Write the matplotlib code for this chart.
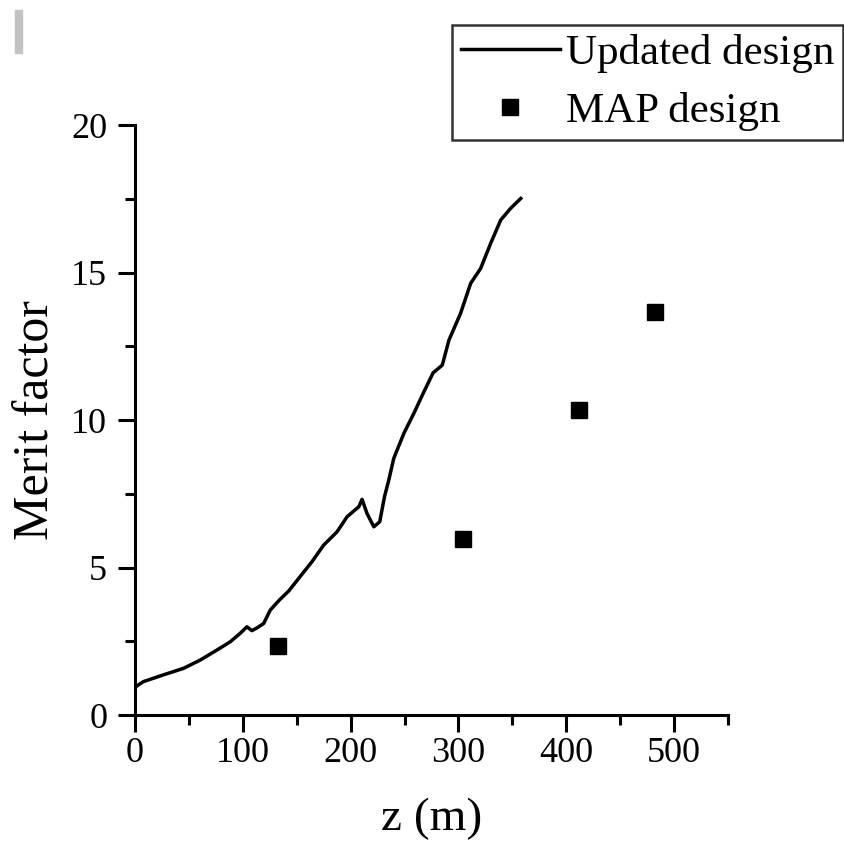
import matplotlib
matplotlib.use("Agg")
import matplotlib.pyplot as plt
from matplotlib.patches import Rectangle
from matplotlib.ticker import MultipleLocator

# Updated design curve
z_line = [0, 1.5, 7.7, 26.3, 44.9, 60.4, 75.9, 88.3, 97.6, 103.8, 108.4, 113, 119.3,
          125.5, 134, 142.5, 151.8, 164.2, 175, 187.4, 196.7, 207.6, 210.6, 215.2,
          221.5, 227, 231.4, 235.4, 240, 249.4, 258.7, 268, 276.5, 285, 291.2, 302,
          311.3, 320.6, 329.9, 339.2, 348.5, 357.8]
m_line = [0.92, 0.98, 1.13, 1.36, 1.58, 1.86, 2.2, 2.48, 2.77, 2.99, 2.86, 2.95, 3.1,
          3.56, 3.9, 4.2, 4.63, 5.2, 5.76, 6.21, 6.72, 7.06, 7.31, 6.83,
          6.38, 6.55, 7.4, 7.97, 8.7, 9.55, 10.23, 10.96, 11.6, 11.86, 12.71, 13.62,
          14.63, 15.14, 15.99, 16.78, 17.18, 17.51]

# MAP design points
z_map = [132.9, 304.5, 411.4, 482.0]
m_map = [2.35, 5.97, 10.35, 13.65]

x_ticks = [0, 100, 200, 300, 400, 500]
y_ticks = [0, 5, 10, 15, 20]

plt.rcParams['font.family'] = ['Liberation Serif', 'DejaVu Serif']

fig = plt.figure(figsize=(8.45, 8.55), dpi=100)
ax = fig.add_axes([135/845, 1-715/855, (728-135)/845, (715-125)/855])

ln, = ax.plot(z_line, m_line, color='black', lw=2.5, label='Updated design')
pts, = ax.plot(z_map, m_map, 's', color='black', markersize=12, label='MAP design')

ax.set_xlim(0, 550)
ax.set_ylim(0, 20)
ax.set_xticks(x_ticks)
ax.set_yticks(y_ticks)
ax.xaxis.set_minor_locator(MultipleLocator(50))
ax.yaxis.set_minor_locator(MultipleLocator(2.5))

for s in ['top', 'right']:
    ax.spines[s].set_visible(False)
for s in ['left', 'bottom']:
    ax.spines[s].set_linewidth(2.2)

ax.tick_params(which='major', direction='out', length=12, width=2.2, labelsize=26)
ax.tick_params(axis='x', which='major', pad=4)
ax.tick_params(axis='y', which='major', pad=8)
ax.tick_params(which='minor', direction='out', length=7, width=2.2)

ax.set_xlabel('z (m)', fontsize=34, labelpad=20)
ax.set_ylabel('Merit factor', fontsize=36, labelpad=8)

leg = fig.legend(handles=[ln, pts], loc='upper left',
                 bbox_to_anchor=(452/845, 1-25/855), fontsize=31,
                 frameon=True, fancybox=False, edgecolor='black',
                 handlelength=2.3, handletextpad=0.14, borderpad=0.2,
                 labelspacing=0.45, borderaxespad=0)
leg.get_frame().set_linewidth(1.8)

fig.patches.append(Rectangle((15/845, 1-53/855), 7/845, 43/855,
                             transform=fig.transFigure, color='#c3c3c3', zorder=0))

fig.savefig('out.png', dpi=100)
